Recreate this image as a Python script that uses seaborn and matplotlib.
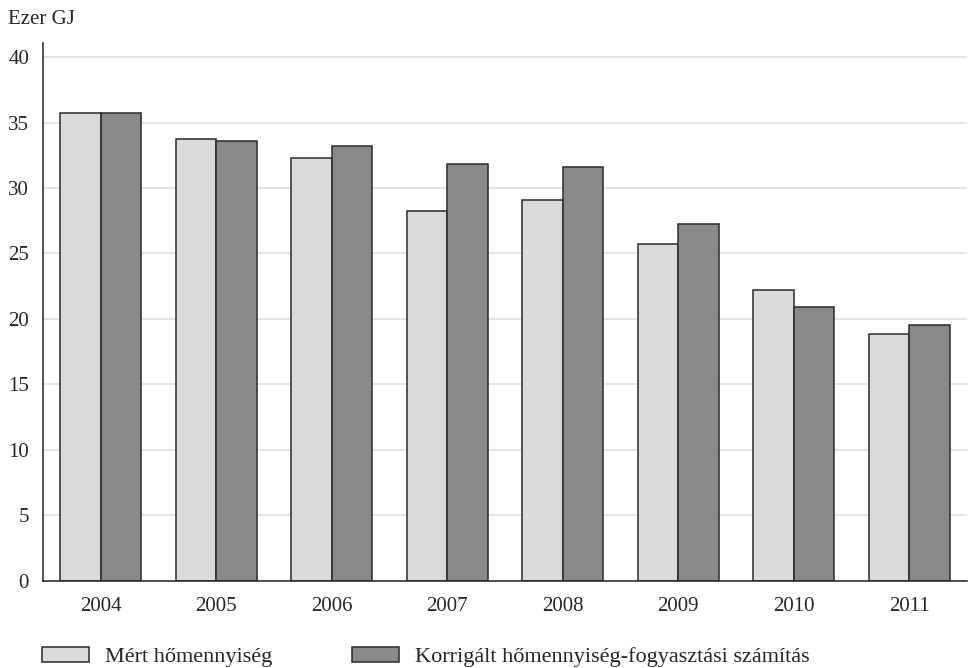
import pandas as pd
import matplotlib
matplotlib.use("Agg")
import matplotlib.pyplot as plt
import seaborn as sns

# values (Ezer GJ)
years = ["2004", "2005", "2006", "2007", "2008", "2009", "2010", "2011"]
mert = [35.7, 33.75, 32.3, 28.2, 29.1, 25.7, 22.2, 18.8]
korrigalt = [35.7, 33.55, 33.2, 31.85, 31.6, 27.25, 20.9, 19.5]

series_names = ["Mért hőmennyiség", "Korrigált hőmennyiség-fogyasztási számítás"]
colors = ["#d9dadc", "#88898b"]

df = pd.DataFrame({
    "year": years * 2,
    "value": mert + korrigalt,
    "series": [series_names[0]] * len(years) + [series_names[1]] * len(years),
})

sns.set_style("white")
plt.rcParams["font.family"] = ["Liberation Serif", "DejaVu Serif"]

fig = plt.figure(figsize=(9.69, 6.68), dpi=100)
ax = fig.add_axes([43 / 969, 1 - 580.5 / 668, 924 / 969, (580.5 - 42.7) / 668])

sns.barplot(data=df, x="year", y="value", hue="series", palette=colors,
            width=0.7, gap=0, edgecolor="#2a2a2a", linewidth=1.1,
            saturation=1, ax=ax)

ax.set_ylim(0, 41.1)
ax.set_xlim(-0.5, len(years) - 0.5)
ax.set_yticks(range(0, 41, 5))
ax.yaxis.grid(True, color="#dedede", linewidth=1.2)
ax.set_axisbelow(True)

for s in ["top", "right"]:
    ax.spines[s].set_visible(False)
ax.spines["left"].set_color("#222222")
ax.spines["bottom"].set_color("#222222")
ax.spines["left"].set_linewidth(1.1)
ax.spines["bottom"].set_linewidth(1.1)

# year labels without marks, boundary ticks as minor ticks
ax.set_xticks(range(len(years)))
ax.set_xticks([i - 0.5 for i in range(len(years) + 1)], minor=True)
ax.tick_params(axis="x", which="major", length=0, pad=12, labelsize=15)
ax.tick_params(axis="x", which="minor", length=7, width=1.1, color="#222222", direction="out")
ax.tick_params(axis="y", length=7, width=1.1, color="#222222", direction="out", labelsize=15, pad=3)
ax.set_xlabel("")
ax.set_ylabel("")

fig.text(8 / 969, 1 - 20 / 668, "Ezer GJ", fontsize=15, va="center", ha="left")

handles, labels = ax.get_legend_handles_labels()
ax.get_legend().remove()
fig.legend(handles, labels, loc="center left", bbox_to_anchor=(42 / 969, 1 - 657 / 668),
           ncol=2, frameon=False, fontsize=16, borderpad=0, borderaxespad=0,
           handlelength=2.1, handleheight=0.63, handletextpad=0.72, columnspacing=3.6)

fig.savefig("out.png", dpi=100)
